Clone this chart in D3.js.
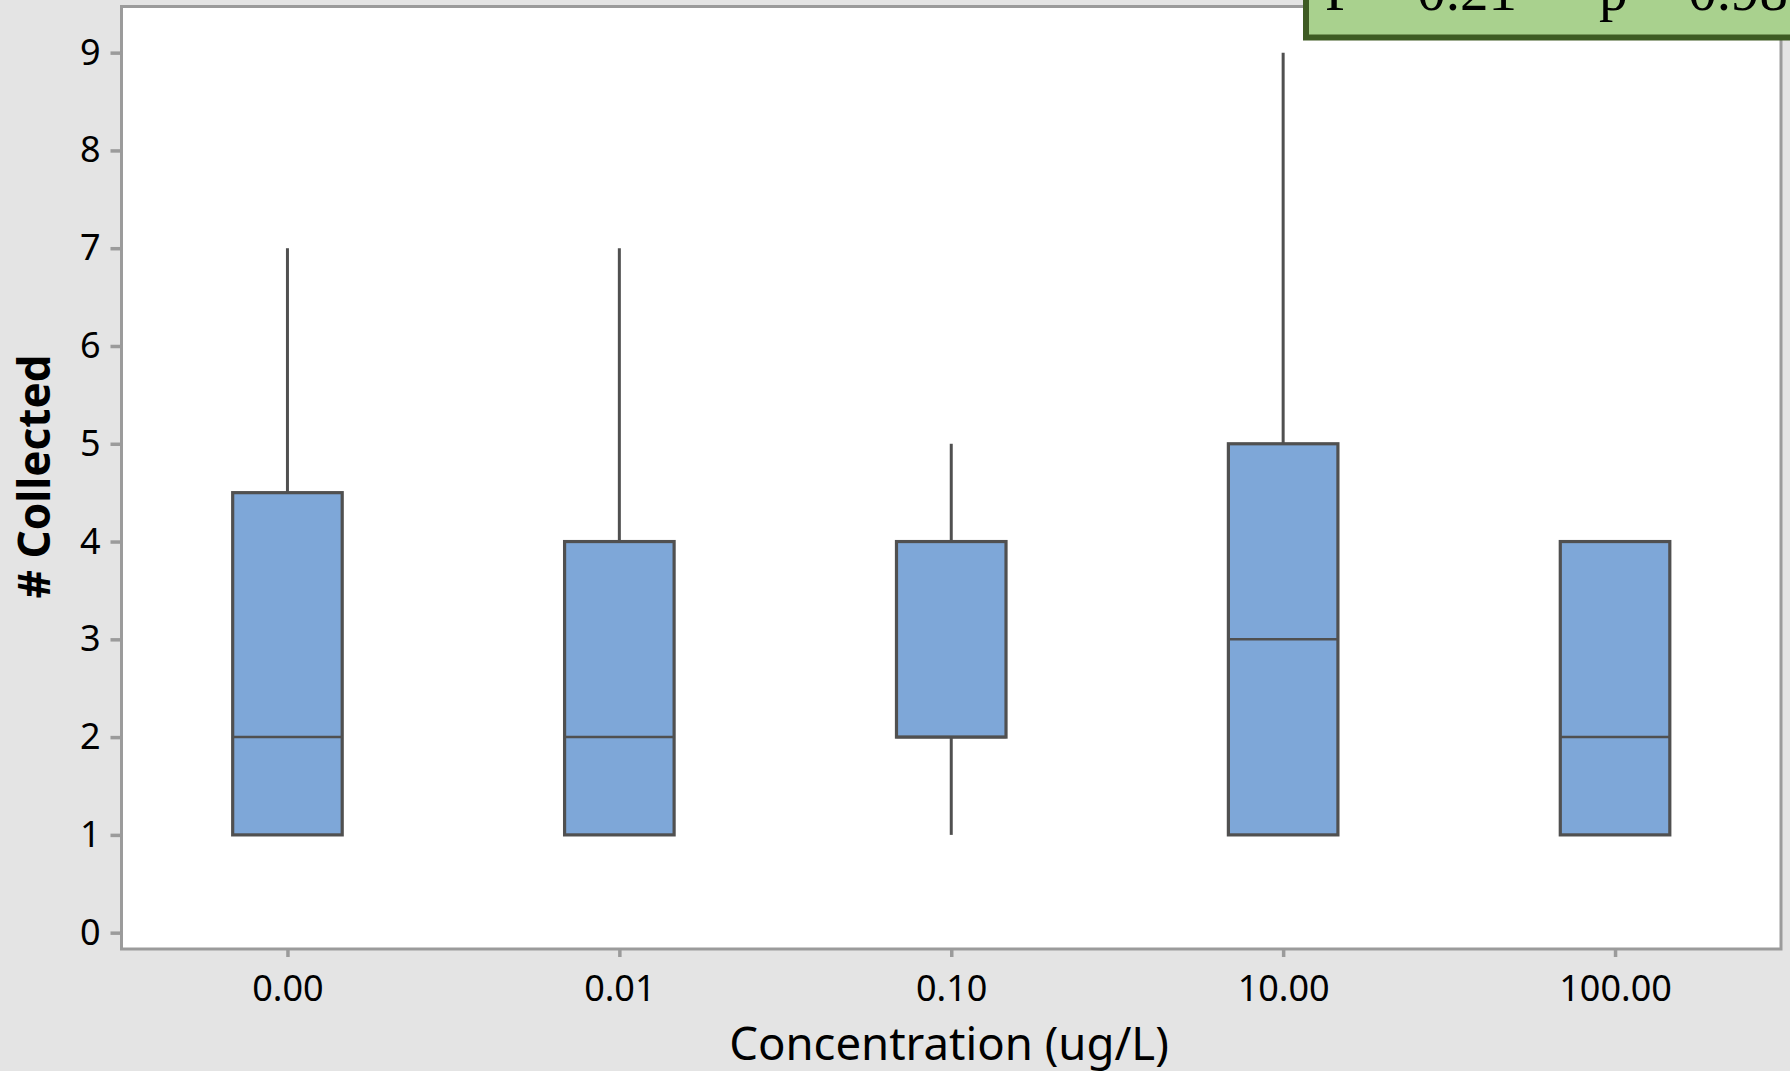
<!doctype html>
<html>
<head>
<script src="https://d3js.org/d3.v7.min.js"></script>
<style>
  html, body { margin: 0; padding: 0; background: #e4e4e4; }
  svg { display: block; }
</style>
</head>
<body>
<svg width="1790" height="1071"></svg>
<script>
// data
var categories = ["0.00", "0.01", "0.10", "10.00", "100.00"];
var whiskerLow = [1, 1, 1, 1, 1];
var q1 = [1, 1, 2, 1, 1];
var median = [2, 2, 2, 3, 2];
var q3 = [4.5, 4, 4, 5, 4];
var whiskerHigh = [7, 7, 5, 9, 4];
var yTicks = [0, 1, 2, 3, 4, 5, 6, 7, 8, 9];
var statF = "F = 0.21";
var statP = "p = 0.98";

var svg = d3.select("svg");

var plotL = 121.5, plotR = 1781, plotT = 6.5, plotB = 949;

var xScale = d3.scalePoint().domain(categories).range([plotL, plotR]).padding(0.5);
var yScale = d3.scaleLinear().domain([-0.167, 9.472]).range([plotB, plotT]);
var boxW = xScale.step() * 0.33;

var axisColor = "#9b9b9b", lineColor = "#505050";

// plot area
svg.append("rect")
   .attr("x", plotL).attr("y", plotT)
   .attr("width", plotR - plotL).attr("height", plotB - plotT)
   .attr("fill", "#fff")
   .attr("stroke", axisColor).attr("stroke-width", 3);

var boxes = categories.map(function(c, i) {
  return {cat: c, lo: whiskerLow[i], q1: q1[i], med: median[i], q3: q3[i], hi: whiskerHigh[i]};
});

var g = svg.append("g");

// whiskers
g.selectAll(".whi").data(boxes).enter().append("line")
 .attr("x1", function(d) { return xScale(d.cat); })
 .attr("x2", function(d) { return xScale(d.cat); })
 .attr("y1", function(d) { return yScale(d.q3); })
 .attr("y2", function(d) { return yScale(d.hi); })
 .attr("stroke", lineColor).attr("stroke-width", 3);

g.selectAll(".wlo").data(boxes).enter().append("line")
 .attr("x1", function(d) { return xScale(d.cat); })
 .attr("x2", function(d) { return xScale(d.cat); })
 .attr("y1", function(d) { return yScale(d.q1); })
 .attr("y2", function(d) { return yScale(d.lo); })
 .attr("stroke", lineColor).attr("stroke-width", 3);

// boxes
g.selectAll(".box").data(boxes).enter().append("rect")
 .attr("x", function(d) { return xScale(d.cat) - boxW / 2; })
 .attr("y", function(d) { return yScale(d.q3); })
 .attr("width", boxW)
 .attr("height", function(d) { return yScale(d.q1) - yScale(d.q3); })
 .attr("fill", "#7ea7d8")
 .attr("stroke", lineColor).attr("stroke-width", 3.2);

// medians
g.selectAll(".med").data(boxes).enter().append("line")
 .attr("x1", function(d) { return xScale(d.cat) - boxW / 2; })
 .attr("x2", function(d) { return xScale(d.cat) + boxW / 2; })
 .attr("y1", function(d) { return yScale(d.med); })
 .attr("y2", function(d) { return yScale(d.med); })
 .attr("stroke", lineColor).attr("stroke-width", 2.5);

// axes
var yAxis = svg.append("g")
   .attr("transform", "translate(" + plotL + ",0)")
   .call(d3.axisLeft(yScale).tickValues(yTicks).tickSize(11).tickPadding(10).tickFormat(d3.format("d")));
var xAxis = svg.append("g")
   .attr("transform", "translate(0," + plotB + ")")
   .call(d3.axisBottom(xScale).tickSize(8).tickPadding(18));

[yAxis, xAxis].forEach(function(a) {
  a.select(".domain").remove();
  a.selectAll(".tick line").attr("stroke", axisColor).attr("stroke-width", 3.5);
  a.selectAll(".tick text")
   .attr("fill", "#000")
   .style("font-family", "'Noto Sans', sans-serif")
   .style("font-size", "36px");
});

// axis titles
svg.append("text")
   .attr("x", 949).attr("y", 1060)
   .attr("text-anchor", "middle")
   .style("font-family", "'Noto Sans', sans-serif")
   .style("font-size", "45.5px")
   .attr("fill", "#000")
   .text("Concentration (ug/L)");

svg.append("text")
   .attr("transform", "translate(50,476.5) rotate(-90)")
   .attr("text-anchor", "middle")
   .style("font-family", "'Noto Sans', sans-serif")
   .style("font-size", "44px")
   .style("font-weight", "bold")
   .attr("fill", "#000")
   .text("# Collected");

// statistics box, cut off by the top edge
svg.append("rect")
   .attr("x", 1306).attr("y", -100)
   .attr("width", 600).attr("height", 137.5)
   .attr("fill", "#a9d18e")
   .attr("stroke", "#3e5b23").attr("stroke-width", 6);

svg.append("text")
   .attr("x", 1325).attr("y", 9.5)
   .style("font-family", "'Liberation Serif', serif")
   .style("font-size", "57px")
   .attr("fill", "#000")
   .text(statF);

svg.append("text")
   .attr("x", 1599).attr("y", 9.5)
   .style("font-family", "'Liberation Serif', serif")
   .style("font-size", "57px")
   .attr("fill", "#000")
   .text(statP);
</script>
</body>
</html>
